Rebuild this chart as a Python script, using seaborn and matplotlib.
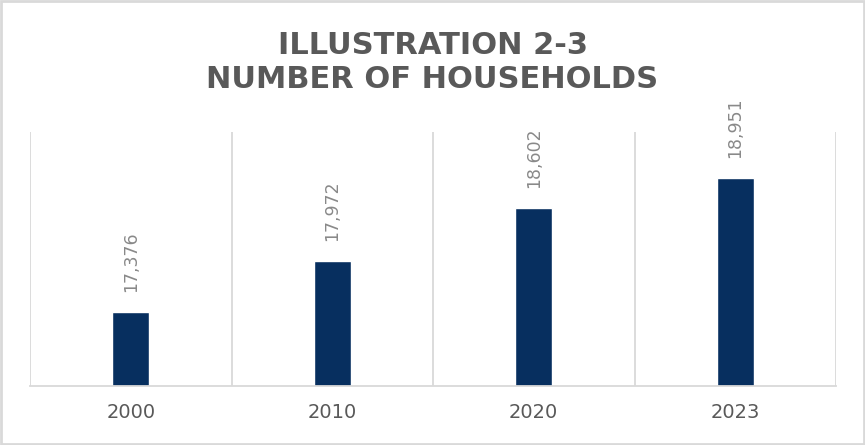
import matplotlib
matplotlib.use("Agg")
import matplotlib.pyplot as plt
import seaborn as sns
import pandas as pd
from matplotlib.patches import Rectangle

years = ["2000", "2010", "2020", "2023"]
households = [17376, 17972, 18602, 18951]
title_lines = ["ILLUSTRATION 2-3", "NUMBER OF HOUSEHOLDS"]

df = pd.DataFrame({"year": years, "households": households})

sns.set_theme(style="white")
plt.rcParams["font.family"] = ["DejaVu Sans"]

fig = plt.figure(figsize=(8.65, 4.45), dpi=100)
ax = fig.add_axes([30 / 865, 1 - 386 / 445, 806 / 865, 254 / 445])

sns.barplot(data=df, x="year", y="households", color="#072f5f",
            width=0.184, saturation=1, ax=ax)

ax.set_ylim(16500, 19500)
ax.set_xlim(-0.5, len(years) - 0.5)

# category separators
for b in [i - 0.5 for i in range(len(years) + 1)]:
    ax.axvline(b, color="#d9d9d9", lw=1.3, zorder=0)

for s in ["top", "left", "right"]:
    ax.spines[s].set_visible(False)
ax.spines["bottom"].set_color("#d9d9d9")
ax.spines["bottom"].set_linewidth(1.3)

ax.set_yticks([])
ax.set_xlabel("")
ax.set_ylabel("")
ax.tick_params(axis="x", length=0, pad=12, labelsize=14, labelcolor="#595959")

# value labels above bars
for i, v in enumerate(households):
    ax.annotate(f"{v:,}", xy=(i, v), xytext=(0, 14.4), textcoords="offset points",
                rotation=90, ha="center", va="bottom", fontsize=12.5,
                color="#898989")

fig.text(0.5, 1 - 46 / 445, title_lines[0], ha="center", va="center",
         fontsize=22, fontweight="bold", color="#595959")
fig.text(0.5, 1 - 80 / 445, title_lines[1], ha="center", va="center",
         fontsize=22, fontweight="bold", color="#595959")

# light frame around the chart
fig.patches.append(Rectangle((0.0015, 0.003), 0.997, 0.994, transform=fig.transFigure,
                             fill=False, edgecolor="#d9d9d9", lw=2))

fig.savefig("out.png", dpi=100)
